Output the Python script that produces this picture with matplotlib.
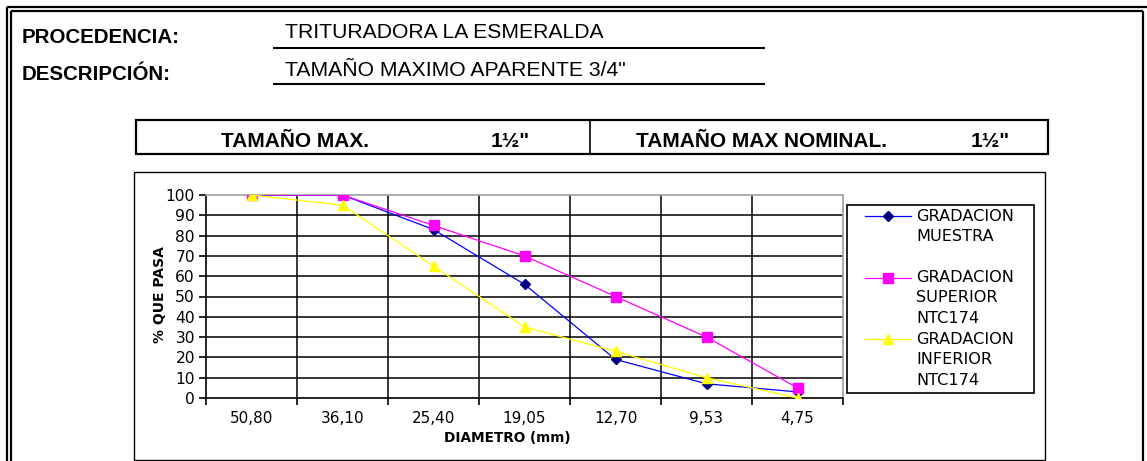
import matplotlib
matplotlib.use("Agg")
import matplotlib.pyplot as plt
from matplotlib.lines import Line2D
from matplotlib.patches import Rectangle

# ---------------- data ----------------
diametros = ["50,80", "36,10", "25,40", "19,05", "12,70", "9,53", "4,75"]
muestra = [100, 100, 83, 56, 19, 7, 3]
superior = [100, 100, 85, 70, 50, 30, 5]
inferior = [100, 95, 65, 35, 23, 10, 0]
y_ticks = [0, 10, 20, 30, 40, 50, 60, 70, 80, 90, 100]

procedencia = "TRITURADORA LA ESMERALDA"
descripcion = 'TAMAÑO MAXIMO APARENTE 3/4"'
tam_max = '1½"'
tam_max_nom = '1½"'
legend_labels = [["GRADACION", "MUESTRA"],
                 ["GRADACION", "SUPERIOR", "NTC174"],
                 ["GRADACION", "INFERIOR", "NTC174"]]

W, H = 1147, 461
fig = plt.figure(figsize=(W / 100, H / 100), dpi=100)
fig.patch.set_facecolor("white")


def fx(x):
    return x / W


def fy(y):
    return 1 - y / H


def fline(x0, y0, x1, y1, lw=1.0, color="black", **kw):
    fig.add_artist(Line2D([fx(x0), fx(x1)], [fy(y0), fy(y1)], transform=fig.transFigure,
                          lw=lw, color=color, solid_capstyle="butt", **kw))


def frect(x0, y0, x1, y1, lw=1.0, color="black"):
    fig.add_artist(Rectangle((fx(x0), fy(y1)), fx(x1) - fx(x0), fy(y0) - fy(y1),
                             transform=fig.transFigure, fill=False, lw=lw, edgecolor=color))


ARIAL = ["Liberation Sans", "DejaVu Sans"]
CHART = ["DejaVu Sans"]

# ---------------- outer double border ----------------
fline(7, 7, W, 7, lw=1.6)
fline(7, 7, 7, H, lw=1.6)
fline(11, 11, 1143, 11, lw=1.6)
fline(11, 11, 11, H, lw=1.6)
fline(1143, 11, 1143, H, lw=1.6)

# ---------------- header ----------------
fig.text(fx(22), fy(43), "PROCEDENCIA:", family=ARIAL, weight="bold", fontsize=14.8, va="baseline")
fig.text(fx(22), fy(80), "DESCRIPCIÓN:", family=ARIAL, weight="bold", fontsize=14.8, va="baseline")
fig.text(fx(285), fy(38), procedencia, family=ARIAL, fontsize=15.2, va="baseline")
fig.text(fx(285), fy(76), descripcion, family=ARIAL, fontsize=15.2, va="baseline")
fline(273, 48, 765, 48, lw=1.5)
fline(273, 84, 765, 84, lw=1.5)

# ---------------- table box ----------------
frect(136, 120, 1048, 154, lw=1.6)
fline(590, 120, 590, 154, lw=1.2)
fig.text(fx(295), fy(147), "TAMAÑO MAX.", family=ARIAL, weight="bold", fontsize=15,
         va="baseline", ha="center")
fig.text(fx(510), fy(147), tam_max, family=ARIAL, weight="bold", fontsize=15,
         va="baseline", ha="center")
fig.text(fx(636), fy(147), "TAMAÑO MAX NOMINAL.", family=ARIAL, weight="bold", fontsize=15,
         va="baseline", ha="left")
fig.text(fx(990), fy(147), tam_max_nom, family=ARIAL, weight="bold", fontsize=15,
         va="baseline", ha="center")

# ---------------- chart box ----------------
frect(134, 172, 1045, 460, lw=1.0)

# ---------------- axes ----------------
L, R, T, B = 206, 843, 195, 398
ax = fig.add_axes([fx(L), fy(B), fx(R) - fx(L), fy(T) - fy(B)])
x = list(range(len(diametros)))

ax.plot(x, muestra, color="#0000FF", lw=0.9, marker="D", markersize=5.5,
        markerfacecolor="#000080", markeredgecolor="#000080", zorder=3)
ax.plot(x, superior, color="#FF00FF", lw=0.9, marker="s", markersize=7,
        markerfacecolor="#FF00FF", markeredgecolor="#FF00FF", zorder=4)
ax.plot(x, inferior, color="#FFFF00", lw=0.9, marker="^", markersize=7.5,
        markerfacecolor="#FFFF00", markeredgecolor="#FFFF00", zorder=5)

ax.set_xlim(-0.5, len(diametros) - 0.5)
ax.set_ylim(0, 100)
ax.set_yticks(y_ticks)
ax.set_yticklabels([str(v) for v in y_ticks], family=CHART, fontsize=11.2)
ax.set_xticks(x)
ax.set_xticklabels(diametros, family=CHART, fontsize=11)
ax.set_xticks([i - 0.5 for i in range(len(diametros) + 1)], minor=True)
ax.tick_params(axis="x", which="major", length=0, pad=9)
ax.tick_params(axis="x", which="minor", length=5, width=1.2, direction="out", color="black")
ax.tick_params(axis="y", which="major", length=5, width=1.2, direction="out", pad=3)

for v in y_ticks[1:-1]:
    ax.axhline(v, color="black", lw=1.1, zorder=1)
for i in range(len(diametros) - 1):
    ax.axvline(i + 0.5, color="black", lw=1.1, zorder=1)

ax.spines["left"].set_color("black")
ax.spines["left"].set_linewidth(1.2)
ax.spines["bottom"].set_color("black")
ax.spines["bottom"].set_linewidth(1.2)
ax.spines["top"].set_color("#a0a0a0")
ax.spines["top"].set_linewidth(1.2)
ax.spines["right"].set_color("#a0a0a0")
ax.spines["right"].set_linewidth(1.2)

fig.text(fx(160), fy(295), "% QUE PASA", family=CHART, weight="bold", fontsize=10,
         rotation=90, ha="center", va="center")
fig.text(fx(507), fy(438), "DIAMETRO (mm)", family=CHART, weight="bold", fontsize=9.8,
         ha="center", va="center")

# ---------------- legend ----------------
frect(847, 205, 1034, 393, lw=1.2)
styles = [("#0000FF", "D", "#000080", 5.5),
          ("#FF00FF", "s", "#FF00FF", 7),
          ("#FFFF00", "^", "#FFFF00", 7.5)]
y0 = 216
line_h = 20.5
for k, (lbls, (lc, mk, mc, ms)) in enumerate(zip(legend_labels, styles)):
    yy = y0 + k * 3 * line_h
    fig.add_artist(Line2D([fx(865), fx(911)], [fy(yy), fy(yy)], transform=fig.transFigure,
                          color=lc, lw=0.9))
    fig.add_artist(Line2D([fx(888)], [fy(yy)], transform=fig.transFigure, marker=mk,
                          markersize=ms, markerfacecolor=mc, markeredgecolor=mc, lw=0))
    for j, t in enumerate(lbls):
        fig.text(fx(916), fy(yy + j * line_h), t, family=CHART, fontsize=11.6,
                 ha="left", va="center")

fig.savefig("out.png", dpi=100, facecolor="white")
